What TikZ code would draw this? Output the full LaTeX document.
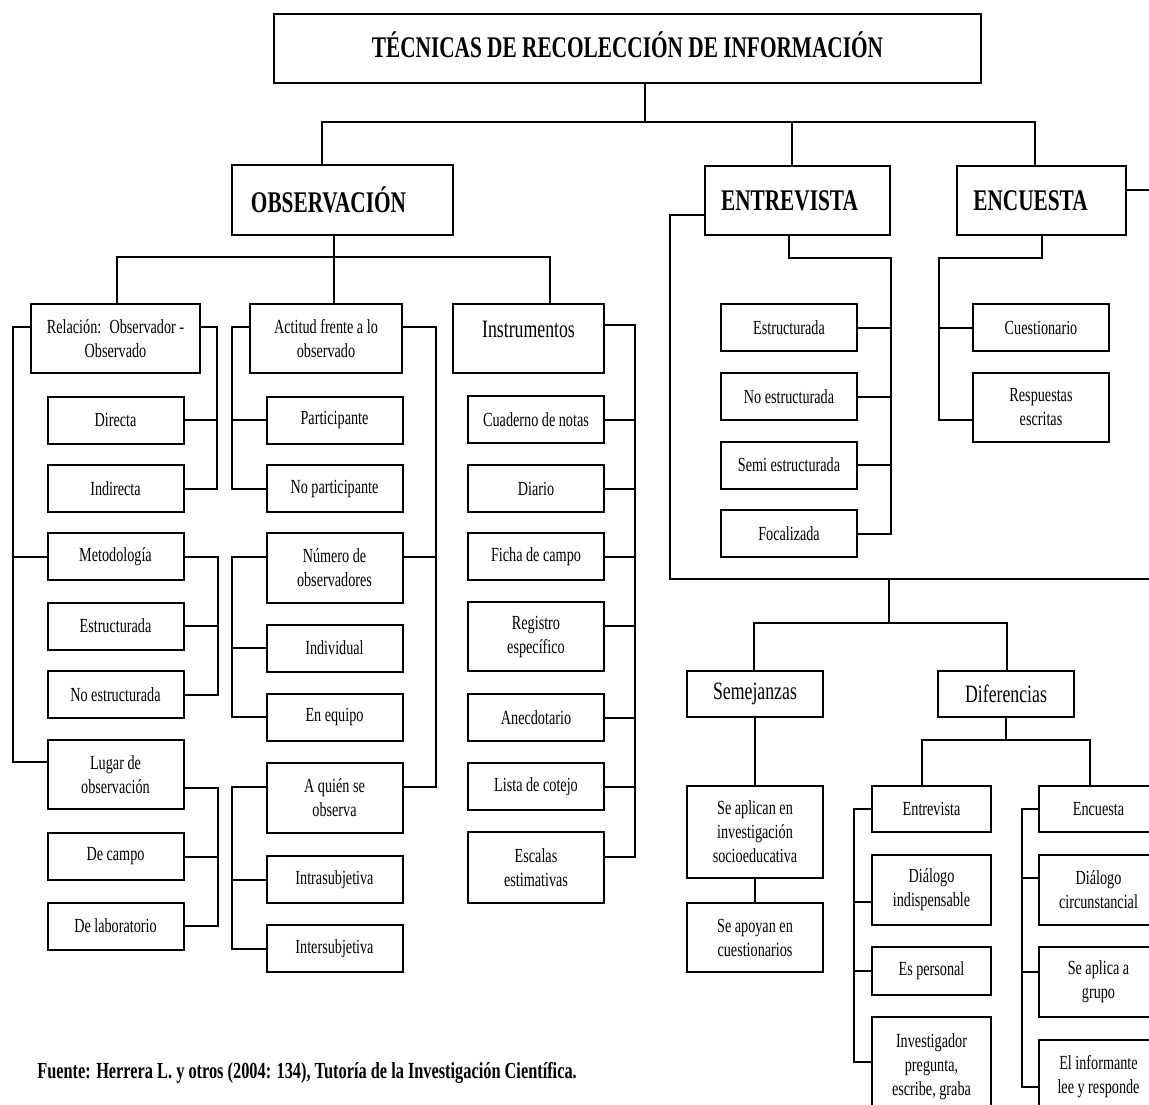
\documentclass[tikz,border=0pt]{standalone}
\usepackage{fontspec}
\setmainfont{Liberation Serif}[FakeStretch=0.71]
\begin{document}
\begin{tikzpicture}[x=1pt,y=-1pt,line width=2pt,
    caja/.style={draw,line width=2pt,inner sep=0pt,align=center,font=\fontsize{20}{24}\selectfont,minimum width=136pt,minimum height=47pt},
    grande/.style={caja,font=\fontsize{30}{36}\selectfont\bfseries},
    media/.style={caja,font=\fontsize{25}{30}\selectfont}]
    \clip (0,0) rectangle (1149,1104);
    \fill[white] (0,0) rectangle (1149,1104);

    % cabeceras
    \node[grande,minimum width=707pt,minimum height=69pt] (tit) at (627.5,48.5) {\raisebox{8pt}{TÉCNICAS DE RECOLECCIÓN DE INFORMACIÓN}};
    \node[grande,minimum width=221pt,minimum height=70pt] (obs) at (342.5,200) {OBSERVACIÓN\hspace*{28pt}};
    \node[grande,minimum width=185pt,minimum height=69pt] (ent) at (797.5,200.5) {ENTREVISTA\hspace*{16pt}};
    \node[grande,minimum width=169pt,minimum height=69pt] (enc) at (1041.5,200.5) {ENCUESTA\hspace*{22pt}};

    % observacion: relacion
    \node[caja,minimum width=169pt,minimum height=69pt] (rel) at (115.5,338.5) {Relación:~ Observador -\\Observado};
    \node[caja] (dir) at (115.5,420) {Directa};
    \node[caja] (ind) at (115.5,488.5) {Indirecta};
    \node[caja] (met) at (115.5,556.5) {Metodología};
    \node[caja] (est) at (115.5,626) {Estructurada};
    \node[caja] (noe) at (115.5,694.5) {No estructurada};
    \node[caja,minimum height=69pt] (lug) at (115.5,774.5) {Lugar de\\observación};
    \node[caja] (cam) at (115.5,856.5) {De campo};
    \node[caja] (lab) at (115.5,926) {De laboratorio};

    % observacion: actitud
    \node[caja,minimum width=152pt,minimum height=69pt] (act) at (326,338.5) {Actitud frente a lo\\observado};
    \node[caja] (par) at (334.5,420) {Participante};
    \node[caja] (nop) at (334.5,488.5) {No participante};
    \node[caja,minimum height=70pt] (num) at (334.5,568) {Número de\\observadores};
    \node[caja] (indv) at (334.5,648) {Individual};
    \node[caja] (equ) at (334.5,717) {En equipo};
    \node[caja,minimum height=70pt] (qui) at (334.5,798) {A quién se\\observa};
    \node[caja] (intra) at (334.5,879.5) {Intrasubjetiva};
    \node[caja] (inter) at (334.5,948.5) {Intersubjetiva};

    % observacion: instrumentos
    \node[media,minimum width=151pt,minimum height=69pt] (ins) at (528.5,338.5) {Instrumentos\\[-12pt]\mbox{}};
    \node[caja] (cua) at (536,419.5) {Cuaderno de notas};
    \node[caja] (dia) at (536,488.5) {Diario};
    \node[caja] (fic) at (536,556.5) {Ficha de campo};
    \node[caja,minimum height=69pt] (reg) at (536,636.5) {Registro\\específico};
    \node[caja] (ane) at (536,717.5) {Anecdotario};
    \node[caja] (lis) at (536,786.5) {Lista de cotejo};
    \node[caja,minimum height=71pt] (esc) at (536,867.5) {Escalas\\estimativas};

    % entrevista y encuesta
    \node[caja] (e1) at (789,327.5) {Estructurada};
    \node[caja] (e2) at (789,396.5) {No estructurada};
    \node[caja] (e3) at (789,465) {Semi estructurada};
    \node[caja] (e4) at (789,533.5) {Focalizada};
    \node[caja] (c1) at (1041,327.5) {Cuestionario};
    \node[caja,minimum height=69pt] (c2) at (1041,407.5) {Respuestas\\escritas};

    % semejanzas y diferencias
    \node[media,minimum height=46pt] (sem) at (755,694) {Semejanzas};
    \node[media,minimum height=46pt] (dif) at (1006,694) {Diferencias};
    \node[caja,minimum height=92pt] (s1) at (755,832) {Se aplican en\\investigación\\socioeducativa};
    \node[caja,minimum height=69pt] (s2) at (755,937.5) {Se apoyan en\\cuestionarios};
    \node[caja,minimum width=119pt,minimum height=46pt] (den) at (931.5,809) {Entrevista};
    \node[caja,minimum width=119pt,minimum height=70pt] (d1) at (931.5,890) {Diálogo\\indispensable};
    \node[caja,minimum width=119pt,minimum height=48pt] (d2) at (931.5,971) {Es personal};
    \node[caja,minimum width=119pt,minimum height=100pt] (d3) at (931.5,1067) {Investigador\\pregunta,\\escribe, graba};
    \node[caja,minimum width=119pt,minimum height=46pt] (dcu) at (1098.5,809) {Encuesta};
    \node[caja,minimum width=119pt,minimum height=70pt] (f1) at (1098.5,890) {Diálogo\\circunstancial};
    \node[caja,minimum width=119pt,minimum height=70pt] (f2) at (1098.5,982) {Se aplica a\\grupo};
    \node[caja,minimum width=119pt,minimum height=74pt] (f3) at (1098.5,1077) {El informante\\lee y responde};

    \node[anchor=west,font=\fontsize{23}{28}\selectfont\bfseries] (fte) at (33,1073) {Fuente: Herrera L. y otros (2004: 134), Tutoría de la Investigación Científica.};

    % lineas del titulo
    \coordinate (t0) at (645,122);
    \coordinate (t1) at (322,122);
    \coordinate (t2) at (792,122);
    \coordinate (t3) at (1035,122);
    \coordinate (r0) at (1160,190);
    \coordinate (r1) at (1160,579);
    \draw (t0 |- tit.south) -- (t0);
    \draw (t1 |- obs.north) -- (t1) -- (t3) -- (t3 |- enc.north);
    \draw (t2) -- (t2 |- ent.north);
    \draw (enc.east |- r0) -- (r0);

    % observacion
    \coordinate (o0) at (334,257);
    \coordinate (o1) at (117,257);
    \coordinate (o2) at (550,257);
    \draw (o0 |- obs.south) -- (o0 |- act.north);
    \draw (o1 |- rel.north) -- (o1) -- (o2) -- (o2 |- ins.north);

    \draw ([yshift=-24pt]rel.north west) -- ++(-17,0) |- ([yshift=-23pt]lug.north west);
    \draw (met.west) -- ++(-34,0);
    \draw ([yshift=-24pt]rel.north east) -- ++(16,0) |- (ind.east);
    \draw (dir.east) -- ++(33,0);
    \draw (met.east) -- ++(33,0) |- (noe.east);
    \draw (est.east) -- ++(33,0);
    \draw ([yshift=22pt]lug.south east) -- ++(33,0) |- (lab.east);
    \draw (cam.east) -- ++(33,0);

    \draw ([yshift=-24pt]act.north west) -- ++(-17,0) |- (nop.west);
    \draw (par.west) -- ++(-33.5,0);
    \draw ([yshift=11pt]num.west) -- ++(-33.5,0) |- (equ.west);
    \draw (indv.west) -- ++(-33.5,0);
    \draw ([yshift=11pt]qui.west) -- ++(-33.5,0) |- (inter.west);
    \draw (intra.west) -- ++(-33.5,0);
    \draw ([yshift=-24pt]act.north east) -- ++(33,0) |- ([yshift=11pt]qui.east);
    \draw ([yshift=11pt]num.east) -- ++(32.5,0);

    \draw ([yshift=-22pt]ins.north east) -- ++(30,0) |- ([yshift=11pt]esc.east);
    \foreach \n in {cua,dia,fic,ane,lis}
        \draw (\n.east) -- ++(30,0);
    \draw ([yshift=11pt]reg.east) -- ++(30,0);

    % entrevista
    \draw ([yshift=21pt]ent.south west) -- ++(-34,0) |- (r1);
    \draw ([xshift=-8.5pt]ent.south) -- ++(0,22) -| ([xshift=33pt]e4.east) -- (e4.east);
    \foreach \n in {e1,e2,e3}
        \draw (\n.east) -- ++(33,0);

    % encuesta
    \draw (enc.south) -- ++(0,22) -| ([xshift=-33pt,yshift=-12.5pt]c2.west) -- ([yshift=-12.5pt]c2.west);
    \draw (c1.west) -- ++(-33,0);

    % semejanzas y diferencias
    \coordinate (m0) at (889,579);
    \coordinate (m1) at (754,623);
    \coordinate (m2) at (1007,623);
    \coordinate (n1) at (922,740);
    \coordinate (n2) at (1090,740);
    \draw (m0) -- (m0 |- m1);
    \draw (m1 |- sem.north) -- (m1) -- (m2) -- (m2 |- dif.north);
    \draw (sem.south) -- (s1.north);
    \draw (s1.south) -- (s2.north);
    \draw (dif.south) -- (dif.south |- n1);
    \draw (n1 |- den.north) -- (n1) -- (n2) -- (n2 |- dcu.north);

    \draw (den.west) -- ++(-17,0) |- ([yshift=5pt]d3.west);
    \draw ([yshift=-12pt]d1.west) -- ++(-17,0);
    \draw (d2.west) -- ++(-17,0);
    \draw (dcu.west) -- ++(-16,0) |- ([yshift=-10pt]f3.west);
    \draw ([yshift=12pt]f1.west) -- ++(-16,0);
    \draw ([yshift=10pt]f2.west) -- ++(-16,0);
\end{tikzpicture}
\end{document}
